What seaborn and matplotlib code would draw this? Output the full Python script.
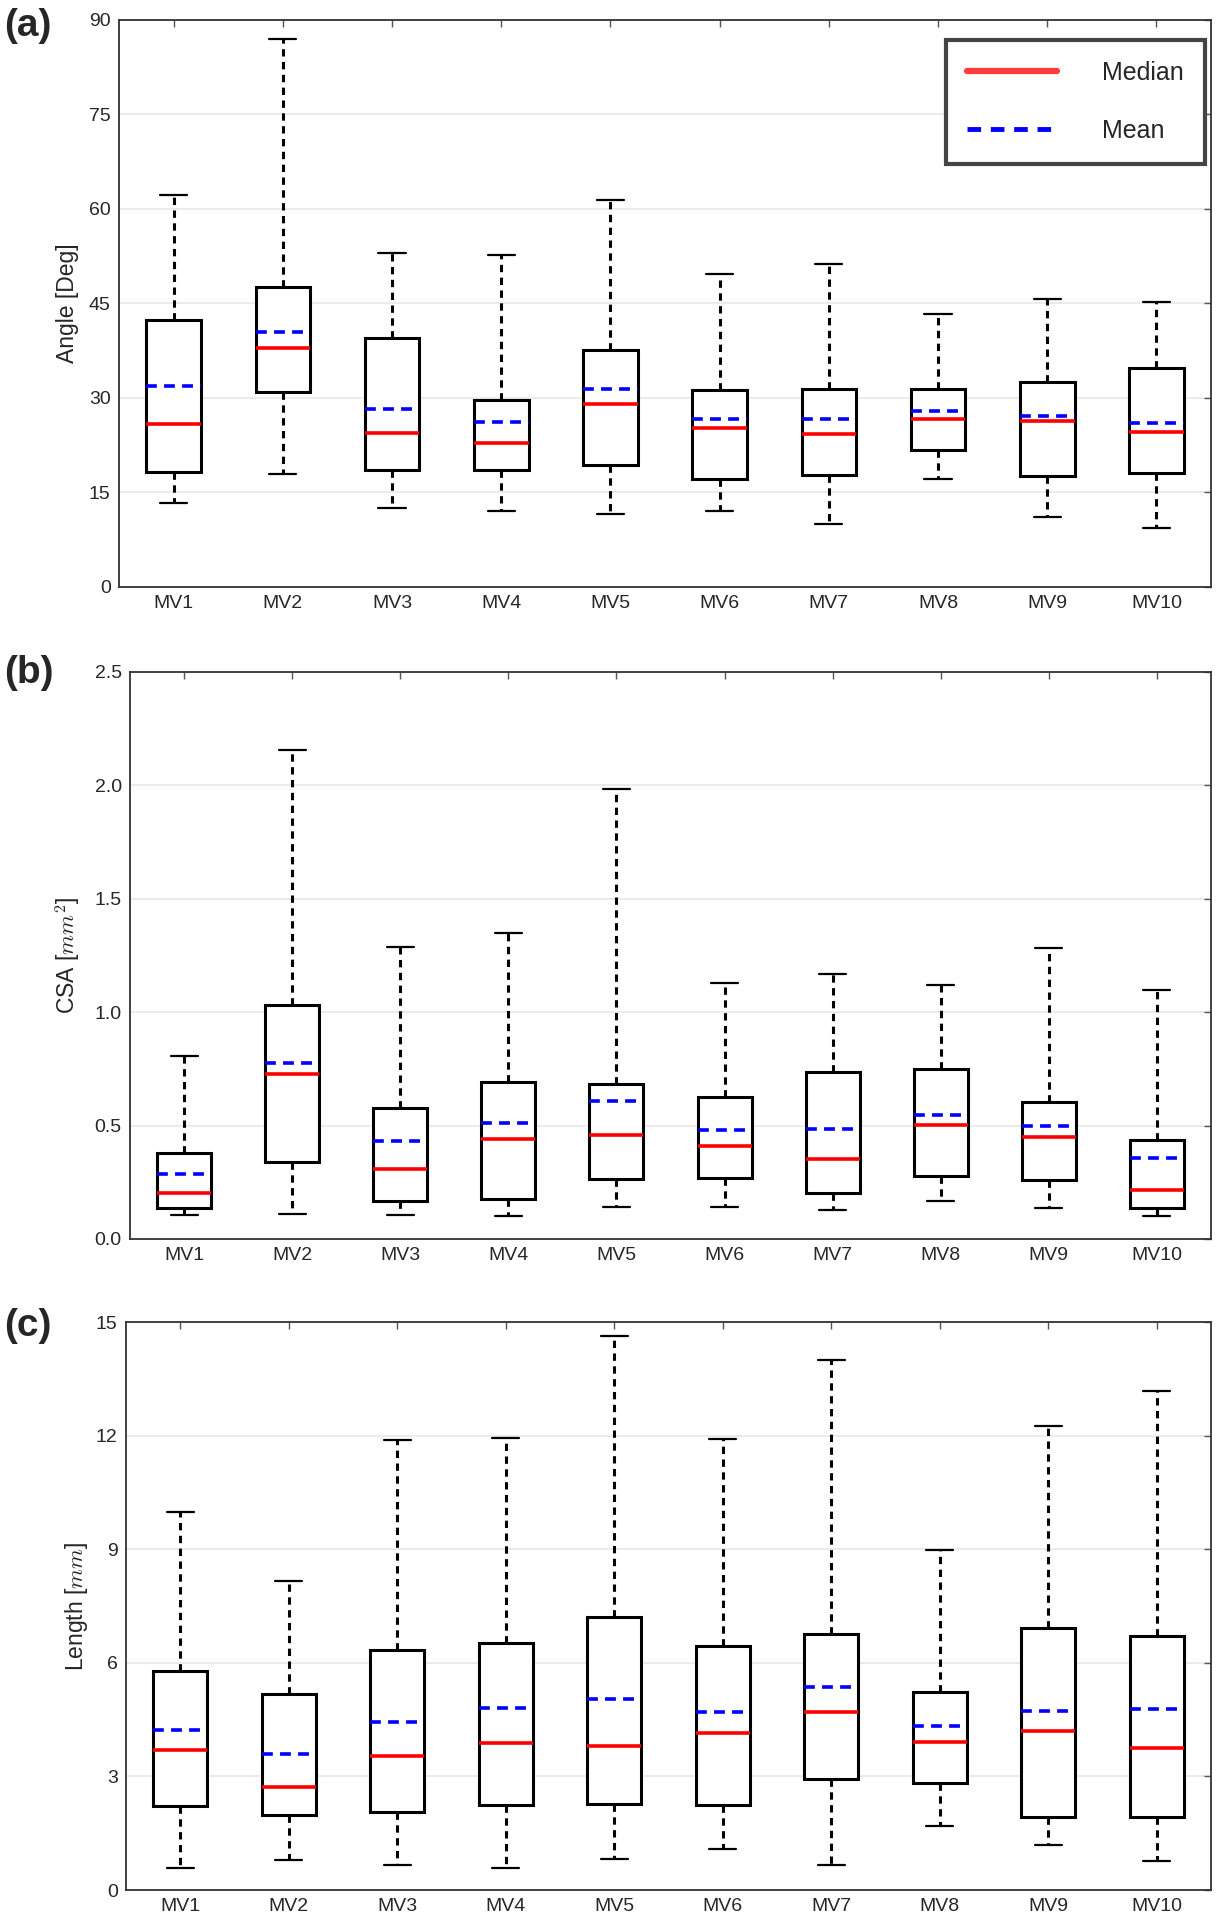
import numpy as np
import pandas as pd
import matplotlib
matplotlib.use("Agg")
import matplotlib.pyplot as plt
from matplotlib.lines import Line2D
import seaborn as sns

categories = ["MV1", "MV2", "MV3", "MV4", "MV5", "MV6", "MV7", "MV8", "MV9", "MV10"]

# (a) Angle [Deg]
angle_low = [13.3, 18.0, 12.6, 12.0, 11.5, 12.0, 10.0, 17.1, 11.1, 9.3]
angle_q1 = [18.3, 31.0, 18.6, 18.5, 19.4, 17.1, 17.8, 21.8, 17.6, 18.1]
angle_median = [25.8, 38.0, 24.4, 22.9, 29.0, 25.3, 24.2, 26.6, 26.4, 24.6]
angle_q3 = [42.3, 47.6, 39.5, 29.7, 37.6, 31.2, 31.5, 31.5, 32.5, 34.8]
angle_high = [62.2, 86.9, 53.0, 52.7, 61.5, 49.6, 51.2, 43.3, 45.7, 45.2]
angle_mean = [31.9, 40.5, 28.2, 26.2, 31.4, 26.6, 26.7, 28.0, 27.1, 26.0]

# (b) CSA [mm^2]
csa_low = [0.106, 0.111, 0.106, 0.103, 0.139, 0.141, 0.127, 0.166, 0.136, 0.103]
csa_q1 = [0.136, 0.340, 0.169, 0.178, 0.265, 0.267, 0.204, 0.279, 0.260, 0.138]
csa_median = [0.204, 0.726, 0.308, 0.439, 0.458, 0.408, 0.352, 0.503, 0.449, 0.214]
csa_q3 = [0.380, 1.033, 0.578, 0.690, 0.683, 0.624, 0.737, 0.751, 0.605, 0.437]
csa_high = [0.808, 2.157, 1.286, 1.347, 1.984, 1.129, 1.167, 1.120, 1.282, 1.099]
csa_mean = [0.287, 0.775, 0.430, 0.512, 0.608, 0.479, 0.483, 0.545, 0.497, 0.357]

# (c) Length [mm]
len_low = [0.59, 0.80, 0.65, 0.58, 0.81, 1.08, 0.66, 1.70, 1.19, 0.78]
len_q1 = [2.21, 1.97, 2.05, 2.25, 2.26, 2.24, 2.93, 2.84, 1.93, 1.94]
len_median = [3.71, 2.73, 3.53, 3.89, 3.81, 4.15, 4.71, 3.90, 4.19, 3.74]
len_q3 = [5.78, 5.17, 6.34, 6.52, 7.22, 6.44, 6.75, 5.23, 6.92, 6.72]
len_high = [9.99, 8.16, 11.89, 11.94, 14.63, 11.91, 14.00, 8.99, 12.25, 13.17]
len_mean = [4.22, 3.59, 4.45, 4.82, 5.04, 4.71, 5.37, 4.32, 4.72, 4.77]

panel_labels = ["(a)", "(b)", "(c)"]
y_labels = ["Angle [Deg]", "CSA [$mm^2$]", "Length [$mm$]"]
y_ticks = [[0, 15, 30, 45, 60, 75, 90],
           [0.0, 0.5, 1.0, 1.5, 2.0, 2.5],
           [0, 3, 6, 9, 12, 15]]
y_tick_labels = [["0", "15", "30", "45", "60", "75", "90"],
                 ["0.0", "0.5", "1.0", "1.5", "2.0", "2.5"],
                 ["0", "3", "6", "9", "12", "15"]]
legend_labels = ["Median", "Mean"]


def five_number_frame(low, q1, med, q3, high):
    rows = []
    for i, c in enumerate(categories):
        for v in (low[i], q1[i], med[i], q3[i], high[i]):
            rows.append({"cat": c, "val": v})
    return pd.DataFrame(rows)


panels = [
    (five_number_frame(angle_low, angle_q1, angle_median, angle_q3, angle_high), angle_mean),
    (five_number_frame(csa_low, csa_q1, csa_median, csa_q3, csa_high), csa_mean),
    (five_number_frame(len_low, len_q1, len_median, len_q3, len_high), len_mean),
]

sns.set_theme(style="white")
plt.rcParams["font.family"] = ["Liberation Sans", "DejaVu Sans"]
plt.rcParams["mathtext.fontset"] = "cm"
plt.rcParams["xtick.direction"] = "in"
plt.rcParams["ytick.direction"] = "in"
plt.rcParams["xtick.top"] = True
plt.rcParams["ytick.right"] = True

fig = plt.figure(figsize=(12.22, 19.2), dpi=100)
rects = [
    [0.0974, 0.6943, 0.8936, 0.2953],
    [0.1064, 0.3547, 0.8846, 0.2953],
    [0.1031, 0.0156, 0.8879, 0.2958],
]
label_y = [0.996, 0.659, 0.319]
label_pads = [7, 8, 4]

for k, ((df, means), rect) in enumerate(zip(panels, rects)):
    ax = fig.add_axes(rect)
    ax.set_axisbelow(True)
    ax.yaxis.grid(True, color="#e8e8e8", linewidth=1.2)
    ax.xaxis.grid(False)
    sns.boxplot(
        data=df, x="cat", y="val", order=categories, ax=ax,
        width=0.5, whis=(0, 100), color="white", linecolor="black",
        linewidth=2.2, saturation=1,
        medianprops=dict(color="red", linewidth=2.6),
        whiskerprops=dict(linestyle=(0, (2.4, 1.8)), linewidth=2.2),
        capprops=dict(linewidth=1.6),
        boxprops=dict(facecolor="white", edgecolor="black"),
    )
    xs = np.arange(len(categories))
    ax.hlines(means, xs - 0.25, xs + 0.25, colors="blue",
              linestyles=(0, (3.0, 2.0)), linewidth=2.6, zorder=5)
    ax.set_xlim(-0.5, len(categories) - 0.5)
    ax.set_ylim(y_ticks[k][0], y_ticks[k][-1])
    ax.set_yticks(y_ticks[k])
    ax.set_yticklabels(y_tick_labels[k])
    ax.set_xlabel("")
    ax.set_ylabel(y_labels[k], fontsize=16.5, labelpad=label_pads[k])
    ax.tick_params(axis="both", labelsize=14, length=5, width=1, color="#555555", pad=6)
    for s in ax.spines.values():
        s.set_color("#333333")
        s.set_linewidth(1.3)
    fig.text(0.003, label_y[k], panel_labels[k], fontsize=28, fontweight="bold",
             va="top", ha="left")

    if k == 0:
        handles = [Line2D([], [], color="#ff3b3b", linewidth=4.5),
                   Line2D([], [], color="blue", linewidth=3.5, linestyle=(0, (2.8, 2.0)))]
        leg = ax.legend(handles, legend_labels, loc="upper right",
                        bbox_to_anchor=(0.9945, 0.9647),
                        fontsize=18, frameon=True, fancybox=False,
                        handlelength=3.6, handletextpad=1.8, labelspacing=1.35,
                        borderpad=0.85, borderaxespad=0.0)
        leg.get_frame().set_edgecolor("#444444")
        leg.get_frame().set_linewidth(3)
        leg.get_frame().set_facecolor("white")
        leg.get_frame().set_alpha(1)

fig.savefig("out.png", dpi=100)
